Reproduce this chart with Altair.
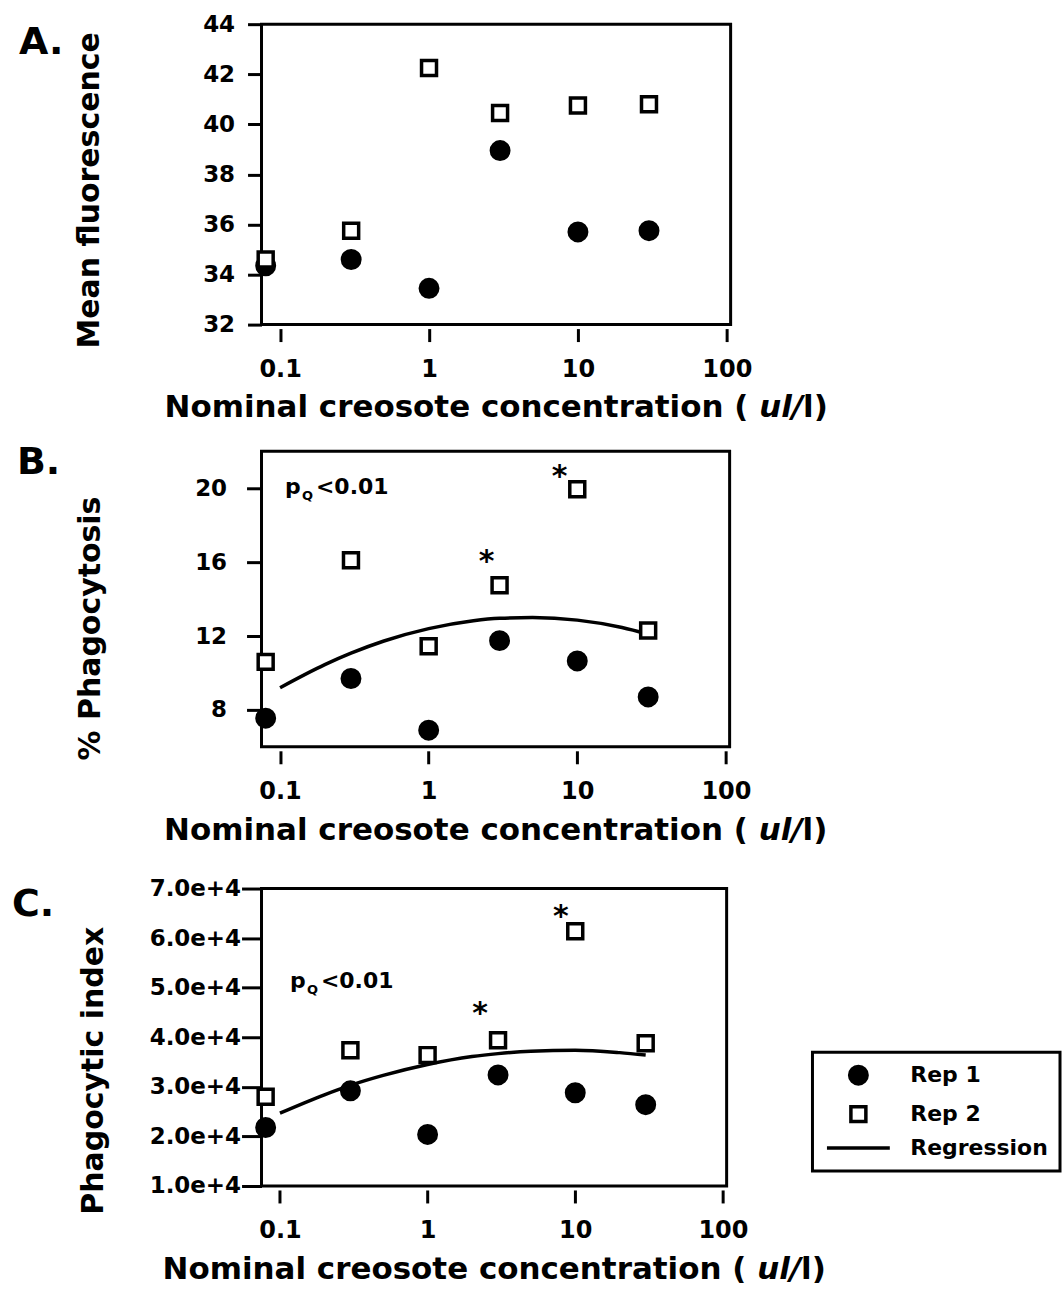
import altair as alt
import pandas as pd

# ---------------- data ----------------
conc = [0.08, 0.3, 1, 3, 10, 30]

fluor_rep1 = [34.35, 34.6, 33.45, 38.95, 35.7, 35.75]
fluor_rep2 = [34.6, 35.75, 42.25, 40.45, 40.75, 40.8]

phago_rep1 = [7.55, 9.7, 6.9, 11.75, 10.65, 8.7]
phago_rep2 = [10.6, 16.1, 11.45, 14.75, 19.95, 12.3]

index_rep1 = [21800, 29200, 20400, 32400, 28800, 26400]
index_rep2 = [28000, 37400, 36400, 39400, 61400, 38800]

reg_conc = [0.1, 0.2, 0.3, 0.5, 1, 2, 3, 5, 10, 20, 30]
phago_reg = [9.2, 10.45, 11.07, 11.73, 12.4, 12.83, 12.96, 13.0, 12.86, 12.46, 12.1]
index_reg = [24700, 28400, 30300, 32300, 34500, 36100, 36700, 37200, 37400, 36900, 36400]

star_phago_x = [2.45, 7.6]
star_phago_y = [16.2, 20.8]
star_index_x = [2.27, 8.0]
star_index_y = [45400, 65100]

pq_phago = (0.108, 19.7)
pq_index = (0.117, 50000)

series = ["Rep 1", "Rep 2", "Regression"]
panel_labels = ["A.", "B.", "C."]
y_titles = ["Mean fluorescence", "% Phagocytosis", "Phagocytic index"]
x_title_parts = ["Nominal creosote concentration (", "ul/", "l)"]
x_ticks = [0.1, 1, 10, 100]
fluor_ticks = [32, 34, 36, 38, 40, 42, 44]
phago_ticks = [8, 12, 16, 20]
index_ticks = [10000, 20000, 30000, 40000, 50000, 60000, 70000]

FONT = "DejaVu Sans"
TITLE_SIZE = 31
# symbol shapes: filled circle, open square, horizontal line (for the legend)
SHAPES = ["circle", "M-0.857,-0.857H0.857V0.857H-0.857Z", "M-3.6,0H3.6"]


def long_points(rep1, rep2):
    rows = []
    for c, v in zip(conc, rep1):
        rows.append({"conc": c, "value": v, "series": series[0]})
    for c, v in zip(conc, rep2):
        rows.append({"conc": c, "value": v, "series": series[1]})
    return pd.DataFrame(rows)


xscale = alt.Scale(type="log", domain=[0.075, 106], nice=False)


def make_x():
    return alt.X(
        "conc:Q",
        scale=xscale,
        axis=alt.Axis(
            values=x_ticks, format="~g", title=None, offset=4, tickSize=13,
            tickWidth=3, domain=False, grid=False, labelFontSize=24,
            labelPadding=16, labelFlush=False,
        ),
    )


def make_y(domain, ticks, fmt, title, tick_size, label_pad, title_x, title_y):
    return alt.Y(
        "value:Q",
        scale=alt.Scale(domain=domain, nice=False, zero=False),
        axis=alt.Axis(
            values=ticks, format=fmt, title=title, tickSize=tick_size, tickWidth=3,
            domain=False, grid=False, labelFontSize=23, labelPadding=label_pad,
            titleFontSize=30, titleX=title_x, titleY=title_y, titleAngle=270,
            titleBaseline="middle", labelFlush=False,
        ),
    )


def x_title_layers(width, height):
    # three pieces so that "ul/" can be italic
    em = TITLE_SIZE
    center = width / 2 - 3
    start = center - 0.5 * 21.638 * em
    x1 = start + 19.07 * em
    x2 = x1 + 0.348 * em
    x3 = x2 + 1.42 * em
    yb = height + 93
    df = pd.DataFrame({"a": [x_title_parts[0]], "b": [x_title_parts[1]],
                       "c": [x_title_parts[2]]})
    base = alt.Chart(df)
    common = dict(baseline="alphabetic", font=FONT, fontWeight="bold",
                  fontSize=TITLE_SIZE, color="black")
    t1 = base.mark_text(align="right", **common).encode(
        text="a:N", x=alt.value(x1), y=alt.value(yb))
    t2 = base.mark_text(align="left", fontStyle="italic", **common).encode(
        text="b:N", x=alt.value(x2), y=alt.value(yb))
    t3 = base.mark_text(align="left", **common).encode(
        text="c:N", x=alt.value(x3), y=alt.value(yb))
    return [t1, t2, t3]


def panel(idx, rep1, rep2, domain, ticks, fmt, tick_size, label_pad, title_x,
          title_y, width, height, label_pos, reg=None, stars=None, pq=None,
          legend=False):
    y_enc = make_y(domain, ticks, fmt, y_titles[idx], tick_size, label_pad,
                   title_x, title_y)
    leg = None
    if legend:
        leg = alt.Legend(
            orient="none", legendX=552, legendY=164, title=None,
            labelFont=FONT, labelFontSize=22, labelFontWeight="bold",
            labelColor="black", labelOffset=41, symbolOffset=23, padding=12,
            rowPadding=8, strokeColor="black", symbolStrokeWidth=3.5,
            symbolSize=306, symbolOpacity=1,
        )
    pts = alt.Chart(long_points(rep1, rep2)).mark_point(
        filled=True, strokeWidth=3.5, opacity=1, size=306
    ).encode(
        x=make_x(),
        y=y_enc,
        shape=alt.Shape("series:N", scale=alt.Scale(domain=series, range=SHAPES),
                        legend=leg),
        fill=alt.Fill("series:N", scale=alt.Scale(
            domain=series, range=["black", "white", "black"]), legend=leg),
        stroke=alt.Stroke("series:N", scale=alt.Scale(
            domain=series, range=["black", "black", "black"]), legend=leg),
    )
    layers = []
    if reg is not None:
        reg_df = pd.DataFrame({"conc": reg_conc, "value": reg})
        layers.append(
            alt.Chart(reg_df).mark_line(color="black", strokeWidth=3.5,
                                        interpolate="monotone").encode(
                x="conc:Q", y="value:Q")
        )
    layers.append(pts)
    if stars is not None:
        sdf = pd.DataFrame({"conc": stars[0], "value": stars[1]})
        layers.append(
            alt.Chart(sdf).mark_text(
                text="*", font=FONT, fontWeight="bold", fontSize=30,
                baseline="alphabetic", dy=13, color="black"
            ).encode(x="conc:Q", y="value:Q")
        )
    if pq is not None:
        pdf = pd.DataFrame({"conc": [pq[0]], "value": [pq[1]]})
        base = alt.Chart(pdf).encode(x="conc:Q", y="value:Q")
        layers.append(base.mark_text(text="p", font=FONT, fontWeight="bold",
                                     fontSize=22, align="left",
                                     baseline="alphabetic", color="black"))
        layers.append(base.mark_text(text="Q", font=FONT, fontWeight="bold",
                                     fontSize=13, align="left",
                                     baseline="alphabetic", dx=17, dy=6,
                                     color="black"))
        layers.append(base.mark_text(text="<0.01", font=FONT, fontWeight="bold",
                                     fontSize=22, align="left",
                                     baseline="alphabetic", dx=31,
                                     color="black"))
    layers.extend(x_title_layers(width, height))
    lab = alt.Chart(pd.DataFrame({"label": [panel_labels[idx]]})).mark_text(
        font=FONT, fontWeight="bold", fontSize=38, align="left",
        baseline="middle", color="black"
    ).encode(text="label:N", x=alt.value(label_pos[0]), y=alt.value(label_pos[1]))
    layers.append(lab)
    return alt.layer(*layers).properties(width=width, height=height)


panel_a = panel(0, fluor_rep1, fluor_rep2, [32, 44], fluor_ticks, "d", 14, 13,
                -172, 166, 470, 301, (-243, 19))
panel_b = panel(1, phago_rep1, phago_rep2, [6, 22], phago_ticks, "d", 15, 20,
                -171, 177, 469, 296, (-245, 12), reg=phago_reg,
                stars=(star_phago_x, star_phago_y), pq=pq_phago)
panel_c = panel(2, index_rep1, index_rep2, [10000, 70000], index_ticks, ".1e",
                20, 1, -168, 182, 466, 298, (-250, 17), reg=index_reg,
                stars=(star_index_x, star_index_y), pq=pq_index, legend=True)

indep = dict(shape="independent", fill="independent", stroke="independent")

inner = alt.vconcat(panel_b, panel_c, spacing=28).resolve_scale(**indep).resolve_legend(**indep)
chart = alt.vconcat(panel_a, inner, spacing=17).resolve_scale(**indep).resolve_legend(**indep)

chart = chart.properties(
    padding={"left": 10, "top": 10, "right": 0, "bottom": 0},
    background="white",
).configure_view(
    stroke="black", strokeWidth=3
).configure_axis(
    labelFont=FONT, labelFontWeight="bold", labelColor="black",
    titleFont=FONT, titleFontWeight="bold", titleColor="black",
    tickColor="black",
).configure_legend(
    strokeWidth=3
)

chart.save("out.html", embed_options={"renderer": "svg", "actions": False})
